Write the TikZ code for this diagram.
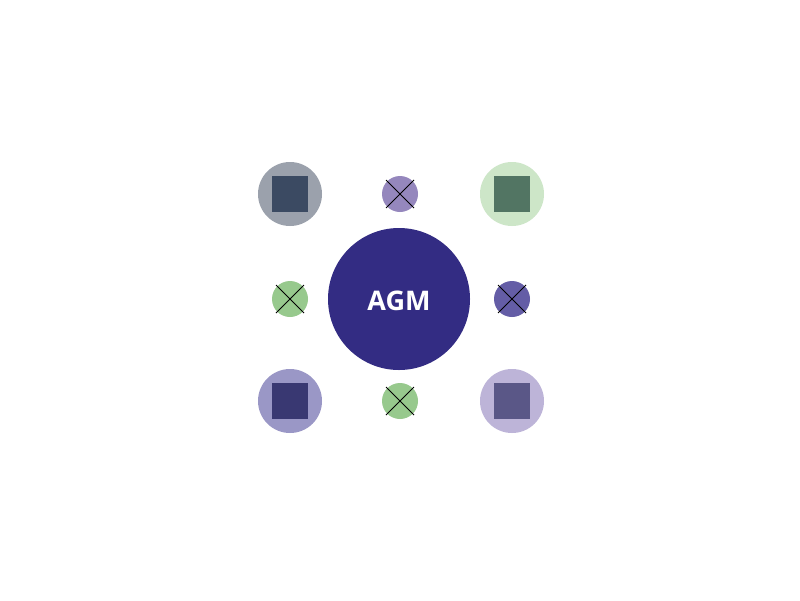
\documentclass[tikz,border=0pt]{standalone}
\usepackage{fontspec}
\setsansfont{Open Sans}
\definecolor{cmain}{HTML}{332C83}
\definecolor{tlc}{HTML}{9BA1AC}\definecolor{tls}{HTML}{3B4A62}
\definecolor{trc}{HTML}{CDE6C8}\definecolor{trs}{HTML}{527563}
\definecolor{blc}{HTML}{9A97C6}\definecolor{bls}{HTML}{393872}
\definecolor{brc}{HTML}{BDB4D8}\definecolor{brs}{HTML}{5A5787}
\definecolor{xtop}{HTML}{9587BD}\definecolor{xgreen}{HTML}{97C98D}\definecolor{xright}{HTML}{645DA6}
\tikzset{
  corner/.style={circle,minimum size=64pt,inner sep=0pt,draw=none},
  sq/.style={minimum size=36pt,inner sep=0pt,draw=none},
  xcirc/.style={circle,minimum size=36pt,inner sep=0pt,draw=none},
  xline/.style={black,line width=0.9pt},
}
\begin{document}
\begin{tikzpicture}[x=1pt,y=-1pt]
\useasboundingbox[fill=white] (0,0) rectangle (800,600);
\node[circle,fill=cmain,minimum size=142pt,inner sep=0pt] (agm) at (399,299) {};
\node[text=white,font=\sffamily\bfseries\fontsize{27}{30}\selectfont,inner sep=0pt] (agmt) at (399,300.5) {AGM};
\node[corner,fill=tlc] (tl) at (290,194) {};
\node[sq,fill=tls] (tlsq) at (tl) {};
\node[corner,fill=trc] (tr) at (512,194) {};
\node[sq,fill=trs] (trsq) at (tr) {};
\node[corner,fill=blc] (bl) at (290,401) {};
\node[sq,fill=bls] (blsq) at (bl) {};
\node[corner,fill=brc] (br) at (512,401) {};
\node[sq,fill=brs] (brsq) at (br) {};
\foreach \n/\p/\c in {xt/{(400,194)}/xtop, xl/{(290,299)}/xgreen, xr/{(512,299)}/xright, xb/{(400,401)}/xgreen}{
  \node[xcirc,fill=\c] (\n) at \p {};
  \draw[xline] ([shift={(-14,-14)}]\n.center) -- ([shift={(14,14)}]\n.center);
  \draw[xline] ([shift={(14,-14)}]\n.center) -- ([shift={(-14,14)}]\n.center);
}
\end{tikzpicture}
\end{document}
